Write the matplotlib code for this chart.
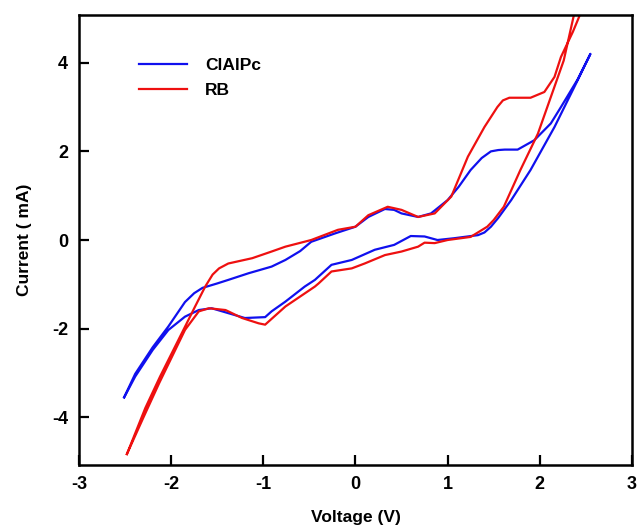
import matplotlib
matplotlib.use("Agg")
import matplotlib.pyplot as plt
import numpy as np

plt.rcParams['font.family'] = ['Liberation Sans', 'DejaVu Sans']
plt.rcParams['font.weight'] = 'bold'
plt.rcParams['axes.unicode_minus'] = False

# ClAlPc loop: start bottom-left, upper branch to the right, lower branch back
clalpc_v = [-2.51, -2.39, -2.2, -2.03, -1.85, -1.75, -1.66, -1.5, -1.38, -1.16, -0.91, -0.76,
            -0.6, -0.48, -0.22, 0.0, 0.14, 0.32, 0.42, 0.5, 0.68, 0.82, 1.0, 1.12, 1.25,
            1.37, 1.47, 1.55, 1.62, 1.76, 1.94, 2.12, 2.23, 2.41, 2.55,
            2.41, 2.16, 1.9, 1.69, 1.55, 1.47, 1.4, 1.33, 1.07, 0.89, 0.75, 0.6,
            0.42, 0.21, -0.04, -0.26, -0.44, -0.55, -0.76, -0.91, -0.98, -1.2,
            -1.38, -1.56, -1.7, -1.85, -2.03, -2.2, -2.39, -2.51]
clalpc_i = [-3.55, -3.02, -2.42, -1.95, -1.4, -1.2, -1.08, -0.98, -0.9, -0.75, -0.6, -0.45,
            -0.25, -0.04, 0.15, 0.3, 0.52, 0.7, 0.68, 0.6, 0.52, 0.6, 0.9, 1.2, 1.58,
            1.85, 2.0, 2.03, 2.04, 2.04, 2.25, 2.63, 3.0, 3.62, 4.2,
            3.6, 2.55, 1.58, 0.9, 0.5, 0.3, 0.17, 0.11, 0.04, 0.0, 0.08, 0.09,
            -0.11, -0.22, -0.45, -0.56, -0.9, -1.05, -1.39, -1.61, -1.74, -1.76,
            -1.65, -1.54, -1.58, -1.73, -2.03, -2.48, -3.08, -3.55]

# RB loop
rb_v = [-2.48, -2.28, -2.12, -1.92, -1.74, -1.63, -1.55, -1.48, -1.38, -1.12, -0.91,
        -0.76, -0.48, -0.19, 0.0, 0.14, 0.35, 0.5, 0.68, 0.86, 1.04,
        1.22, 1.4, 1.54, 1.6, 1.67, 1.9, 2.05, 2.16, 2.23, 2.36, 2.47,
        2.37, 2.26, 1.98, 1.79, 1.61, 1.5, 1.43, 1.25, 1.0, 0.86, 0.75,
        0.68, 0.5, 0.32, 0.1, -0.04, -0.26, -0.4, -0.44, -0.76, -0.98,
        -1.05, -1.23, -1.41, -1.59, -1.7, -1.85, -1.99, -2.13, -2.3, -2.48]
rb_i = [-4.83, -3.79, -3.08, -2.25, -1.5, -1.05, -0.78, -0.64, -0.53, -0.41, -0.26,
        -0.15, 0.0, 0.23, 0.3, 0.56, 0.75, 0.68, 0.52, 0.6, 0.98,
        1.88, 2.55, 3.0, 3.15, 3.21, 3.21, 3.34, 3.68, 4.13, 4.7, 5.25,
        5.07, 4.05, 2.4, 1.58, 0.75, 0.45, 0.3, 0.07, 0.0, -0.07, -0.06,
        -0.15, -0.26, -0.34, -0.53, -0.64, -0.71, -0.98, -1.05, -1.5, -1.91,
        -1.88, -1.76, -1.58, -1.54, -1.61, -2.03, -2.63, -3.23, -4.0, -4.83]

xticks = [-3, -2, -1, 0, 1, 2, 3]
yticks = [-4, -2, 0, 2, 4]

fig = plt.figure(figsize=(6.37, 5.31), dpi=100)
ax = fig.add_axes([0.124, 0.124, 0.868, 0.848])

ax.plot(clalpc_v, clalpc_i, color='#1010ee', lw=1.6, label='ClAlPc')
ax.plot(rb_v, rb_i, color='#ee1010', lw=1.6, label='RB')

ax.set_xlim(-3, 3)
ax.set_ylim(-5.08, 5.08)
ax.set_xticks(xticks)
ax.set_yticks(yticks)
ax.tick_params(direction='in', length=7, width=1.6, labelsize=13, pad=8,
               top=False, right=False)
for s in ax.spines.values():
    s.set_linewidth(1.8)

ax.set_xlabel('Voltage (V)', fontsize=12.5, fontweight='bold', labelpad=12)
ax.set_ylabel('Current ( mA)', fontsize=12.5, fontweight='bold', labelpad=14)

ax.legend(loc='upper left', bbox_to_anchor=(0.08, 0.94), frameon=False,
          fontsize=12.5, handlelength=2.8, handletextpad=1.0, labelspacing=0.6)

fig.savefig('out.png', dpi=100)
